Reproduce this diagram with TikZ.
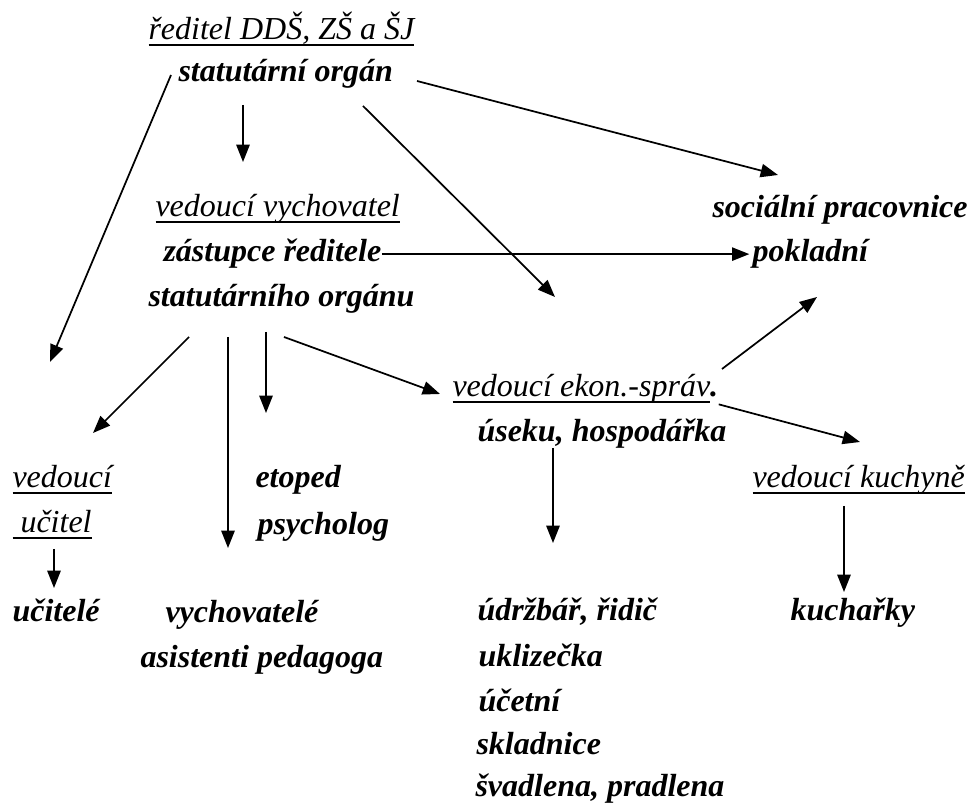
\documentclass[tikz,border=0pt]{standalone}
\usepackage{fontspec}
\setmainfont{Liberation Serif}
\usetikzlibrary{arrows.meta}
\newcommand{\ulin}[1]{\setbox0\hbox{#1}\rlap{\rule[-2.2pt]{\wd0}{0.75pt}}\box0}

\begin{document}
\begin{tikzpicture}[x=0.375pt, y=-0.375pt,
    role/.style={font=\fontsize{12}{14}\selectfont\bfseries\itshape, inner sep=0pt, anchor=base west},
    head/.style={font=\fontsize{12}{14}\selectfont\itshape, inner sep=0pt, anchor=base west},
    arr/.style={-{Triangle[length=6.5pt,width=5pt]}, line width=0.65pt}]
  \useasboundingbox (0,0) rectangle (974,807);

  % top
  \node[head] (reditel) at (148,40) {\ulin{ředitel DDŠ, ZŠ a ŠJ}};
  \node[role] (statorg) at (178,82) {statutární orgán};

  % deputy
  \node[head] (vedvych) at (155,217) {\ulin{vedoucí vychovatel}};
  \node[role] (zastup) at (163,262) {zástupce ředitele};
  \node[role] (statorgu) at (148,307) {statutárního orgánu};

  \node[role] (social) at (712,218) {sociální pracovnice};
  \node[role] (pokladni) at (752,262) {pokladní};

  % economy
  \node[head] (vedekon) at (452,397) {\ulin{vedoucí ekon.-správ}\textbf{.}};
  \node[role] (useku) at (477,442) {úseku, hospodářka};
  \node[head] (vedkuch) at (752,488) {\ulin{vedoucí kuchyně}};
  \node[role] (kucharky) at (790,621) {kuchařky};
  \node[role] (udrzbar) at (477,621) {údržbář, řidič};
  \node[role] (uklizec) at (478,667) {uklizečka};
  \node[role] (ucetni) at (478,712) {účetní};
  \node[role] (skladnice) at (476,755) {skladnice};
  \node[role] (svadlena) at (475,797) {švadlena, pradlena};

  % school
  \node[head] (vedouci) at (12,488) {\ulin{vedoucí}};
  \node[head] (ucitel) at (12,533) {\ulin{\ učitel}};
  \node[role] (etoped) at (255,488) {etoped};
  \node[role] (psycholog) at (257,535) {psycholog};
  \node[role] (ucitele) at (12,622) {učitelé};
  \node[role] (vychov) at (165,623) {vychovatelé};
  \node[role] (asist) at (140,668) {asistenti pedagoga};

  % arrow ends
  \coordinate (s1) at (171,75);  \coordinate (t1) at (50,362);
  \coordinate (s2) at (243,105); \coordinate (t2) at (243,162);
  \coordinate (s3) at (363,106); \coordinate (t3) at (555,297);
  \coordinate (s4) at (417,81);  \coordinate (t4) at (778,175);
  \coordinate (s6) at (189,337); \coordinate (t6) at (93,433);
  \coordinate (s7) at (228,337); \coordinate (t7) at (228,548);
  \coordinate (s8) at (266,332); \coordinate (t8) at (266,413);
  \coordinate (s9) at (284,337); \coordinate (t9) at (440,394);
  \coordinate (s10) at (722,369); \coordinate (t10) at (817,297);
  \coordinate (t11) at (860,442);
  \coordinate (s12) at (553,448); \coordinate (t12) at (553,543);
  \coordinate (s13) at (844,506); \coordinate (t13) at (844,592);
  \coordinate (s14) at (54,549);  \coordinate (t14) at (54,588);

  \draw[arr] (s1) -- (t1);
  \draw[arr] (s2) -- (t2);
  \draw[arr] (s3) -- (t3);
  \draw[arr] (s4) -- (t4);
  \draw[arr, shorten >=1pt] (zastup.east) -- (zastup.east -| pokladni.west);
  \draw[arr] (s6) -- (t6);
  \draw[arr] (s7) -- (t7);
  \draw[arr] (s8) -- (t8);
  \draw[arr] (s9) -- (t9);
  \draw[arr] (s10) -- (t10);
  \draw[arr] (vedekon.south east) -- (t11);
  \draw[arr] (s12) -- (t12);
  \draw[arr] (s13) -- (t13);
  \draw[arr] (s14) -- (t14);
\end{tikzpicture}
\end{document}
